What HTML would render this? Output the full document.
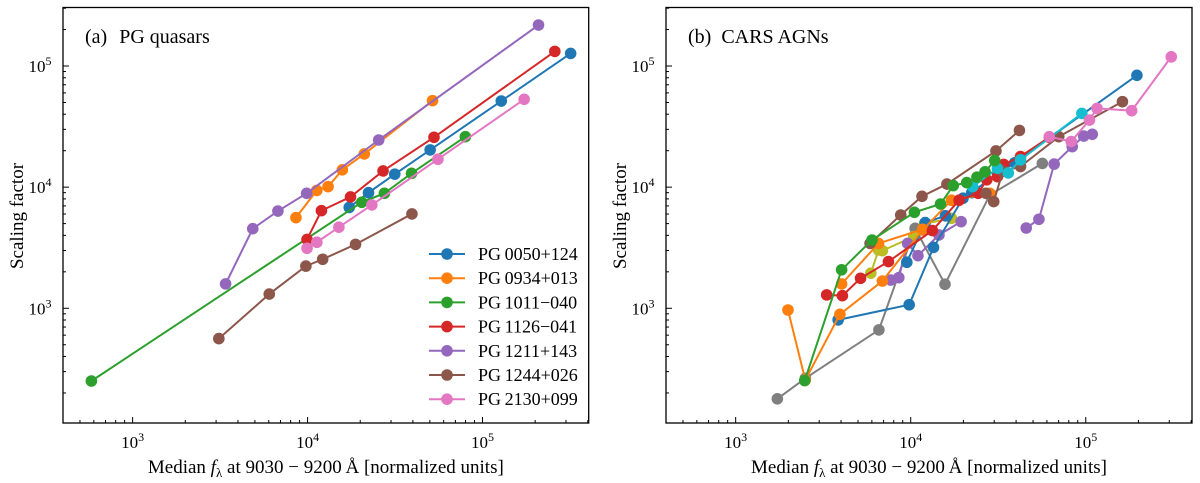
<!DOCTYPE html>
<html><head><meta charset="utf-8"><style>
body{margin:0;background:#fff;}
svg{display:block;font-family:"Liberation Serif","DejaVu Serif",serif;}
</style></head><body>
<svg id="fig" width="1200" height="483" viewBox="0 0 1200 483"></svg>
<script>
// ---- data ----
const xTickLabels = ["3","4","5"];
const yTickLabels = ["3","4","5"];
const legendLabels = ["PG\u20090050+124","PG\u20090934+013","PG\u20091011\u2212040","PG\u20091126\u2212041","PG\u20091211+143","PG\u20091244+026","PG\u20092130+099"];
const colorsA = ["#1f77b4","#ff7f0e","#2ca02c","#d62728","#9467bd","#8c564b","#e377c2"];
const pg0050x = [17300,22300,31500,50200,128000,319000];
const pg0050y = [6800,9000,12800,20300,51400,127000];
const pg0934x = [8580,11300,13100,15800,21100,51800];
const pg0934y = [5600,9400,10100,13900,18800,51800];
const pg1011x = [581,20400,27500,39300,79800];
const pg1011y = [251,7500,8900,13000,26100];
const pg1126x = [9930,12000,17600,27000,52800,259000];
const pg1126y = [3700,6400,8300,13600,25800,132000];
const pg1211x = [3400,4860,6770,9880,25500,209000];
const pg1211y = [1590,4540,6350,8890,24500,218000];
const pg1244x = [3110,6040,9780,12200,18800,39500];
const pg1244y = [562,1310,2230,2540,3370,6010];
const pg2130x = [9930,11300,15100,23300,55600,173000];
const pg2130y = [3130,3510,4670,7130,17000,53100];
// CARS
const carsGrayX=[1730,2500,6580,10600,15700,28300,56500];
const carsGrayY=[179,264,663,4570,1580,8600,15700];
const carsOliveX=[5920,6550,6890,10400,12000,17100];
const carsOliveY=[1950,3030,2990,3900,5000,5530];
const carsOrange1X=[1990,2500,3940,6890,11700,17100,28300];
const carsOrange1Y=[968,256,892,1680,4430,7800,8900];
const carsOrange2X=[4030,6550,11700];
const carsOrange2Y=[1590,3430,4490];
const carsBlue1X=[3850,9800,13500,19900,22300,31300,39300,196000];
const carsBlue1Y=[802,1070,3180,8100,9000,13000,15900,83800];
const carsBlue2X=[9500,12100,15800];
const carsBlue2Y=[2400,5100,5800];
const carsPurple1X=[7690,8550,9600,11000,14500,19400];
const carsPurple1Y=[1710,1790,3430,2720,4030,5190];
const carsPurple2X=[45700,54000,66000,83700,97400,109000];
const carsPurple2Y=[4600,5430,15500,21600,26400,27300];
const carsBrown1X=[5860,8770,11600,16100,30700,41800];
const carsBrown1Y=[3430,5890,8400,10600,19900,29400];
const carsBrown2X=[26900,29800,33600,42400,70100,162000];
const carsBrown2Y=[8900,7600,13500,14800,26100,50800];
const carsRedX=[3310,4070,5170,7460,13300,18900,24300,27200,31300,34000,42400,61900];
const carsRedY=[1290,1270,1770,2430,4380,7800,8900,11500,12200,15400,17900,25800];
const carsGreenX=[2480,4030,6010,10500,14800,17500,20900,23900,26600,30200];
const carsGreenY=[253,2080,3660,6200,7260,10300,10900,12100,13400,16600];
const carsCyanX=[22600,31300,36100,42400,95000];
const carsCyanY=[10100,14300,13100,16800,40600];
const carsPinkX=[61900,82600,105000,116000,183000,308000];
const carsPinkY=[26100,23800,35800,44700,42800,119000];

const NS="http://www.w3.org/2000/svg";
const svg=document.getElementById('fig');
function mk(tag,attrs,parent){const e=document.createElementNS(NS,tag);for(const k in attrs)e.setAttribute(k,attrs[k]);(parent||svg).appendChild(e);return e;}
const XMIN=2.602,XMAX=5.607,YMIN=2.053,YMAX=5.483,TOP=7.5,BOT=423;
const R=5.8,LW=2;
function makeAxes(left,right){
  return {x:v=>left+(Math.log10(v)-XMIN)/(XMAX-XMIN)*(right-left),
          y:v=>BOT-(Math.log10(v)-YMIN)/(YMAX-YMIN)*(BOT-TOP),left,right};
}
function drawFrame(ax,g){
  const f=mk('rect',{x:ax.left,y:TOP,width:ax.right-ax.left,height:BOT-TOP,fill:'none',stroke:'#000','stroke-width':1.3},g);
  
  for(let d=2;d<=5;d++){for(let m=1;m<10;m++){
    const v=m*Math.pow(10,d);const lx=Math.log10(v);
    if(lx>XMIN&&lx<XMAX){const px=ax.x(v);const L=m===1?6:3;
      const t=mk('line',{x1:px,x2:px,y1:BOT,y2:BOT-L,stroke:'#000','stroke-width':1},g);
      }
    if(lx>YMIN&&lx<YMAX){const py=ax.y(v);const L=m===1?6:3;
      const t=mk('line',{x1:ax.left,x2:ax.left+L,y1:py,y2:py,stroke:'#000','stroke-width':1},g);
      }
  }}
  xTickLabels.forEach(e=>{const px=ax.x(Math.pow(10,+e));
    const t=mk('text',{x:px,y:448,'text-anchor':'middle','font-size':17},g);
    
    t.innerHTML='10<tspan dy="-7" font-size="12">'+e+'</tspan>';});
  yTickLabels.forEach(e=>{const py=ax.y(Math.pow(10,+e));
    const t=mk('text',{x:ax.left-23,y:py+6,'text-anchor':'middle','font-size':17},g);
    
    t.innerHTML='10<tspan dy="-7" font-size="12">'+e+'</tspan>';});
  const cx=(ax.left+ax.right)/2;
  const xl=mk('text',{x:cx,y:473,'text-anchor':'middle','font-size':19},g);
  
  xl.innerHTML='Median <tspan font-style="italic">f</tspan><tspan font-size="13" dy="4">\u03bb</tspan><tspan dy="-4"> at 9030 \u2212 9200\u2009\u00c5 [normalized units]</tspan>';
  const yl=mk('text',{x:0,y:0,'text-anchor':'middle','font-size':19,transform:'translate('+(ax.left-40)+',216) rotate(-90)'},g);
  
  yl.textContent='Scaling factor';
}
function drawSeries(ax,xs,ys,color,g,name){
  const s=mk('g',{},g);
  
  const pts=xs.map((v,i)=>ax.x(v)+','+ax.y(ys[i])).join(' ');
  mk('polyline',{points:pts,fill:'none',stroke:color,'stroke-width':LW},s);
  xs.forEach((v,i)=>{const c=mk('circle',{cx:ax.x(v),cy:ax.y(ys[i]),r:R,fill:color},s);
    });
}
// Panel a
const gA=mk('g',{});
const axA=makeAxes(63,588.7);
drawFrame(axA,gA);
const seriesA=[[pg0050x,pg0050y],[pg0934x,pg0934y],[pg1011x,pg1011y],[pg1126x,pg1126y],[pg1211x,pg1211y],[pg1244x,pg1244y],[pg2130x,pg2130y]];
seriesA.forEach((s,i)=>drawSeries(axA,s[0],s[1],colorsA[i],gA,'series-'+legendLabels[i].replace(/[^0-9]/g,'')));
const ta=mk('text',{x:85,y:43,'font-size':20},gA);

ta.innerHTML='(a)<tspan dx="12">PG quasars</tspan>';
const leg=mk('g',{},gA);
legendLabels.forEach((l,i)=>{const y=254+i*24.2;
  const e=mk('g',{},leg);
  mk('line',{x1:429,x2:465,y1:y,y2:y,stroke:colorsA[i],'stroke-width':LW},e);
  mk('circle',{cx:447,cy:y,r:R,fill:colorsA[i]},e);
  const t=mk('text',{x:478,y:y+6,'font-size':18},e);t.textContent=l;});
// Panel b
const gB=mk('g',{});
const axB=makeAxes(666,1192);
drawFrame(axB,gB);
const seriesB=[[carsGrayX,carsGrayY,'#7f7f7f','gray'],[carsOliveX,carsOliveY,'#bcbd22','olive'],
 [carsPurple1X,carsPurple1Y,'#9467bd','purple-1'],[carsPurple2X,carsPurple2Y,'#9467bd','purple-2'],
 [carsBlue1X,carsBlue1Y,'#1f77b4','blue-1'],[carsBlue2X,carsBlue2Y,'#1f77b4','blue-2'],
 [carsOrange1X,carsOrange1Y,'#ff7f0e','orange-1'],[carsOrange2X,carsOrange2Y,'#ff7f0e','orange-2'],
 [carsRedX,carsRedY,'#d62728','red'],[carsBrown1X,carsBrown1Y,'#8c564b','brown-1'],[carsBrown2X,carsBrown2Y,'#8c564b','brown-2'],
 [carsCyanX,carsCyanY,'#17becf','cyan'],[carsPinkX,carsPinkY,'#e377c2','pink'],[carsGreenX,carsGreenY,'#2ca02c','green']];
seriesB.forEach(s=>drawSeries(axB,s[0],s[1],s[2],gB,'cars-series-'+s[3]));
const tb=mk('text',{x:688,y:43,'font-size':20},gB);

tb.innerHTML='(b)<tspan dx="10">CARS AGNs</tspan>';
</script>
</body></html>
